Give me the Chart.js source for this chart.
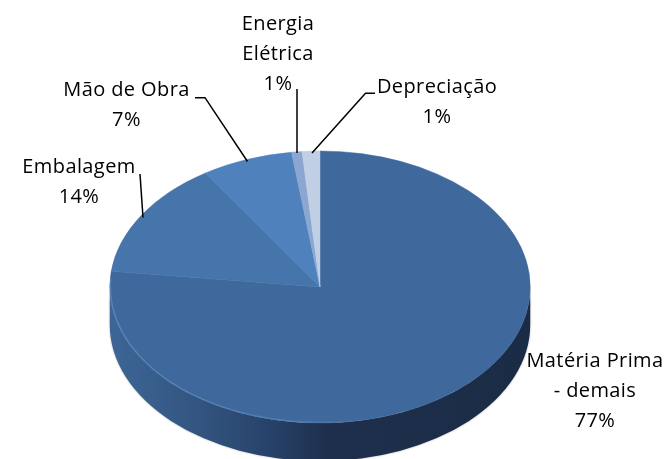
<!DOCTYPE html>
<html>
<head>
<meta charset="utf-8">
<style>html,body{margin:0;padding:0;background:#fff}#w{width:669px;height:459px}</style>
<script src="https://cdn.jsdelivr.net/npm/chart.js@4"></script>
</head>
<body>
<div id="w"><canvas id="c" width="669" height="459"></canvas></div>
<script>
const categories = ['Matéria Prima\n- demais', 'Embalagem', 'Mão de Obra', 'Energia\nElétrica', 'Depreciação'];
const values = [76.84, 14, 7, 0.8, 1.36];
const percentLabels = ['77%', '14%', '7%', '1%', '1%'];
const colors = ['#3f689c', '#4675ab', '#4f81bd', '#8ba7d1', '#c1cfe4'];

// Layout (separate from data)
const FONT = '20px "Open Sans"';
const LINE = 30;
const pie = {cy: 287, ry: 136, depth: 38};
const labelPos = [
  {x: 595, y: 367},
  {x: 79, y: 173},
  {x: 126.5, y: 96},
  {x: 278, y: 30},
  {x: 437, y: 93}
];
const leaders = [
  null,
  [[140, 174], [143, 217.5]],
  [[195, 97.7], [205, 97.7], [247.5, 161.5]],
  [[297, 89], [297, 153]],
  [[375, 93.3], [365.5, 93.3], [312, 153]]
];

const pie3d = {
  id: 'pie3d',
  beforeDatasetsDraw(chart) {
    const ctx = chart.ctx, a = chart.getDatasetMeta(0).data[0];
    const cx = a.x, rx = a.outerRadius, cy = pie.cy, ry = pie.ry, d = pie.depth;
    ctx.save();
    const g = ctx.createLinearGradient(cx - rx, 0, cx + rx, 0);
    g.addColorStop(0, '#3d6696');
    g.addColorStop(0.2, '#335681');
    g.addColorStop(0.38, '#27426a');
    g.addColorStop(0.52, '#1d2f4c');
    g.addColorStop(1, '#1a2c45');
    ctx.shadowColor = 'rgba(0,0,0,0.35)';
    ctx.shadowBlur = 2;
    ctx.fillStyle = g;
    ctx.beginPath();
    ctx.ellipse(cx, cy, rx, ry, 0, 0, Math.PI);
    ctx.lineTo(cx - rx, cy + d);
    ctx.ellipse(cx, cy + d, rx, ry, 0, Math.PI, 0, true);
    ctx.closePath();
    ctx.fill();
    ctx.restore();
    ctx.save();
    ctx.translate(0, cy);
    ctx.scale(1, ry / rx);
    ctx.translate(0, -a.y);
  },
  afterDatasetsDraw(chart) {
    const ctx = chart.ctx, a = chart.getDatasetMeta(0).data[0];
    ctx.restore();
    const cx = a.x, rx = a.outerRadius, cy = pie.cy, ry = pie.ry;
    ctx.save();
    const g = ctx.createLinearGradient(cx - rx, 0, cx + rx * 0.4, 0);
    g.addColorStop(0, 'rgba(95,140,195,0.75)');
    g.addColorStop(0.6, 'rgba(95,140,195,0.6)');
    g.addColorStop(1, 'rgba(95,140,195,0)');
    ctx.strokeStyle = g;
    ctx.lineWidth = 1.2;
    ctx.beginPath();
    ctx.ellipse(cx, cy, rx - 0.6, ry - 0.6, 0, Math.PI * 0.45, Math.PI * 1.02);
    ctx.stroke();
    ctx.restore();
    ctx.save();
    ctx.fillStyle = '#000';
    ctx.strokeStyle = '#000';
    ctx.lineWidth = 1.5;
    ctx.font = FONT;
    ctx.letterSpacing = '0.4px';
    ctx.textAlign = 'center';
    ctx.textBaseline = 'alphabetic';
    categories.forEach((cat, i) => {
      const lines = cat.split('\n').concat(percentLabels[i]);
      lines.forEach((t, j) => ctx.fillText(t, labelPos[i].x, labelPos[i].y + j * LINE));
      if (leaders[i]) {
        ctx.beginPath();
        leaders[i].forEach((p, k) => k ? ctx.lineTo(p[0], p[1]) : ctx.moveTo(p[0], p[1]));
        ctx.stroke();
      }
    });
    ctx.restore();
  }
};

new Chart(document.getElementById('c'), {
  type: 'pie',
  data: {
    labels: categories,
    datasets: [{data: values, backgroundColor: colors, borderColor: colors, borderWidth: 0.6}]
  },
  options: {
    responsive: false,
    animation: false,
    layout: {padding: {left: 109.5, right: 138.5, top: 19, bottom: 19}},
    plugins: {legend: {display: false}, tooltip: {enabled: false}, title: {display: false}}
  },
  plugins: [pie3d]
});
</script>
</body>
</html>
